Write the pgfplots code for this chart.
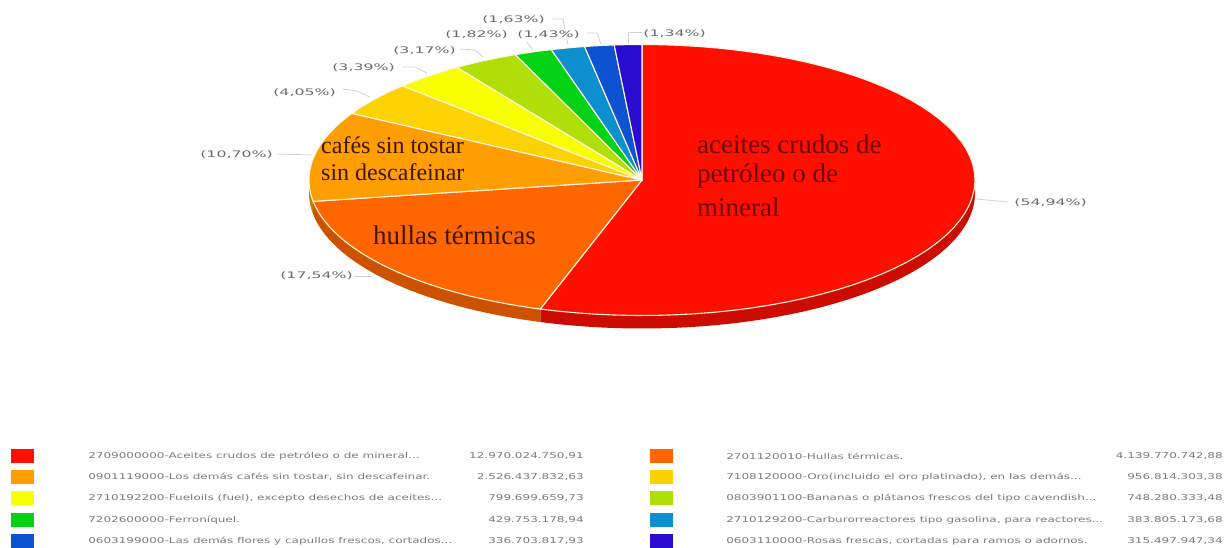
\documentclass[border=0pt]{standalone}
\usepackage{pgfplots}
\pgfplotsset{compat=1.18}
\usepackage{fontspec}
\setmainfont{DejaVu Sans}
\newfontfamily\ser{Liberation Serif}
\definecolor{c1}{HTML}{FF0F00}\definecolor{c1d}{HTML}{CC0C00}
\definecolor{c2}{HTML}{FF6600}\definecolor{c2d}{HTML}{CC5200}
\definecolor{c3}{HTML}{FF9E01}\definecolor{c3d}{HTML}{CC7E01}
\definecolor{c4}{HTML}{FCD202}
\definecolor{c5}{HTML}{F8FF01}
\definecolor{c6}{HTML}{B0DE09}
\definecolor{c7}{HTML}{04D215}
\definecolor{c8}{HTML}{0D8ECF}
\definecolor{c9}{HTML}{0D52D1}
\definecolor{c10}{HTML}{2A0CD0}
\definecolor{lab}{HTML}{6A6A6A}
\definecolor{leg}{HTML}{7A7A7A}
\definecolor{rim}{HTML}{FFF6E0}
\definecolor{tred}{HTML}{6B0505}
\definecolor{torg}{HTML}{401500}
% slice: from cumulative percent #1 to #2, clockwise from the top
\newcommand{\slice}[3]{\addplot[fill=#3,draw=rim,line width=1.1pt,line join=round,domain=#1:#2,samples=60]
 ({642+333*sin(3.6*x)},{180-135.5*cos(3.6*x)}) -- (axis cs:642,180) -- cycle;}
\newcommand{\side}[3]{\addplot[fill=#3,draw=none,domain=#1:#2,samples=60]
 ({642+333*sin(3.6*x)},{193-135.5*cos(3.6*x)})
 -- (axis cs:{642+333*sin(3.6*#2)},{180-135.5*cos(3.6*#2)})
 -- (axis cs:{642+333*sin(3.6*#1)},{180-135.5*cos(3.6*#1)}) -- cycle;}
\newcommand{\lbl}[3]{\node[anchor=west,inner sep=0pt,text=lab,xscale=1.75,font=\fontsize{9}{9}\selectfont] at (axis cs:#1,#2) {#3};}
\newcommand{\leaderline}[1]{\draw[draw=black!18,line width=0.8pt] #1;}
% colour, swatch x, row y, text x, name, value, right end of the value
\newcommand{\legrow}[7]{%
 \fill[#1] (axis cs:#2,#3-7) rectangle (axis cs:#2+23,#3+7);
 \node[anchor=west,inner sep=0pt,text=leg,xscale=1.5,font=\fontsize{8}{8}\selectfont] at (axis cs:#4,#3) {#5};
 \node[anchor=east,inner sep=0pt,text=leg,xscale=1.5,font=\fontsize{8}{8}\selectfont] at (axis cs:#7,#3) {#6};}
\begin{document}
\begin{tikzpicture}
\begin{axis}[width=1228pt,height=548pt,scale only axis,axis lines=none,
  xmin=0,xmax=1228,ymin=0,ymax=548,y dir=reverse,clip=false]
\path (axis cs:0,0) rectangle (axis cs:1228,548);
% depth of the pie
\side{25}{54.94}{c1d}
\side{54.94}{72.48}{c2d}
\side{72.48}{75}{c3d}
% shares in percent, cumulative
\slice{0}{54.94}{c1}
\slice{54.94}{72.48}{c2}
\slice{72.48}{83.18}{c3}
\slice{83.18}{87.23}{c4}
\slice{87.23}{90.62}{c5}
\slice{90.62}{93.79}{c6}
\slice{93.79}{95.61}{c7}
\slice{95.61}{97.24}{c8}
\slice{97.24}{98.67}{c9}
\slice{98.67}{100}{c10}
% leader lines
\leaderline{(axis cs:976,199) -- (axis cs:1008,202)}
\leaderline{(axis cs:354,276) -- (axis cs:372,276)}
\leaderline{(axis cs:277,154) -- (axis cs:312,155)}
\leaderline{(axis cs:343,89) -- (axis cs:357,91) -- (axis cs:370,97)}
\leaderline{(axis cs:402,67) -- (axis cs:415,67) -- (axis cs:427,73)}
\leaderline{(axis cs:460,49) -- (axis cs:475,50) -- (axis cs:483,57)}
\leaderline{(axis cs:527,42) -- (axis cs:533,50)}
\leaderline{(axis cs:552,19) -- (axis cs:563,19) -- (axis cs:568,45)}
\leaderline{(axis cs:587,33) -- (axis cs:597,33) -- (axis cs:601,44)}
\leaderline{(axis cs:628,43) -- (axis cs:628,32) -- (axis cs:642,32)}
% percentage labels
\lbl{1014}{203}{(54,94\%)}
\lbl{280}{276}{(17,54\%)}
\lbl{200}{155}{(10,70\%)}
\lbl{273}{93}{(4,05\%)}
\lbl{332}{68}{(3,39\%)}
\lbl{393}{51}{(3,17\%)}
\lbl{445}{35}{(1,82\%)}
\lbl{482}{20}{(1,63\%)}
\lbl{517}{35}{(1,43\%)}
\lbl{643}{34}{(1,34\%)}
% names on the pie
\node[anchor=west,inner sep=0pt,text=tred,font=\ser\fontsize{27}{27}\selectfont] at (axis cs:697,144) {aceites crudos de};
\node[anchor=west,inner sep=0pt,text=tred,font=\ser\fontsize{27}{27}\selectfont] at (axis cs:697,176) {petróleo o de};
\node[anchor=west,inner sep=0pt,text=tred,font=\ser\fontsize{27}{27}\selectfont] at (axis cs:697,207) {mineral};
\node[anchor=west,inner sep=0pt,text=torg,font=\ser\fontsize{24}{24}\selectfont] at (axis cs:321,145) {cafés sin tostar};
\node[anchor=west,inner sep=0pt,text=torg,font=\ser\fontsize{24}{24}\selectfont] at (axis cs:321,172) {sin descafeinar};
\node[anchor=west,inner sep=0pt,text=torg,font=\ser\fontsize{27}{27}\selectfont] at (axis cs:373,235) {hullas térmicas};
% legend
\legrow{c1}{11}{456}{88}{2709000000-Aceites crudos de petróleo o de mineral...}{12.970.024.750,91}{584}
\legrow{c3}{11}{477}{88}{0901119000-Los demás cafés sin tostar, sin descafeinar.}{2.526.437.832,63}{584}
\legrow{c5}{11}{498}{88}{2710192200-Fueloils (fuel), excepto desechos de aceites...}{799.699.659,73}{584}
\legrow{c7}{11}{520}{88}{7202600000-Ferroníquel.}{429.753.178,94}{584}
\legrow{c9}{11}{541}{88}{0603199000-Las demás flores y capullos frescos, cortados...}{336.703.817,93}{584}
\legrow{c2}{650}{456}{726}{2701120010-Hullas térmicas.}{4.139.770.742,88}{1223}
\legrow{c4}{650}{477}{726}{7108120000-Oro(incluido el oro platinado), en las demás...}{956.814.303,38}{1223}
\legrow{c6}{650}{498}{726}{0803901100-Bananas o plátanos frescos del tipo cavendish...}{748.280.333,48}{1223}
\legrow{c8}{650}{520}{726}{2710129200-Carburorreactores tipo gasolina, para reactores...}{383.805.173,68}{1223}
\legrow{c10}{650}{541}{726}{0603110000-Rosas frescas, cortadas para ramos o adornos.}{315.497.947,34}{1223}
\end{axis}
\end{tikzpicture}
\end{document}
